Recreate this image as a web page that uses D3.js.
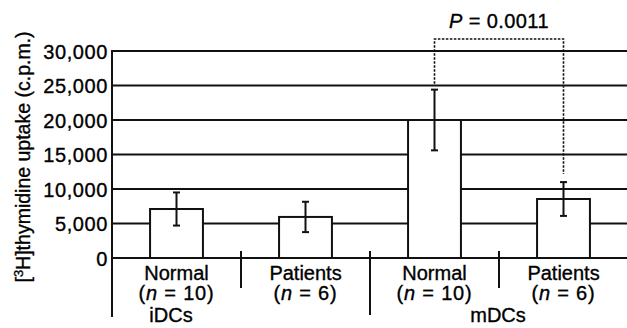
<!DOCTYPE html>
<head>
  <meta charset="utf-8">
  <script src="https://d3js.org/d3.v7.min.js"></script>
  <style>
    body { margin:0; background:#fff; }
    text { font-family: "Liberation Sans", Arial, sans-serif; fill:#000; stroke:#000; stroke-width:0.35px; }
  </style>
</head>

<body>
  <script>
    var width = 627,
        height = 328;

    // data
    var bars = ['iDC-Normal', 'iDC-Patients', 'mDC-Normal', 'mDC-Patients'];
    var means = [7100, 5950, 20000, 8550];
    var errors = [2400, 2200, 4400, 2450];
    var labels = ['Normal', 'Patients', 'Normal', 'Patients'];
    var nValues = ['10', '6', '10', '6'];
    var yTicks = [0, 5000, 10000, 15000, 20000, 25000, 30000];

    var svg = d3.select("body").append("svg")
      .attr("width", width)
      .attr("height", height);

    var x0 = 112;
    var xScale = d3.scaleBand()
      .domain(bars)
      .range([x0, 628])
      .paddingInner(0.59)
      .paddingOuter(0.295);

    var yScale = d3.scaleLinear()
      .domain([0, 30000])
      .range([258, 51]);

    // gridlines across full width
    svg.append('g')
      .selectAll('line')
      .data(yTicks)
      .enter()
      .append('line')
      .attr('x1', x0)
      .attr('x2', width)
      .attr('y1', function(d) { return yScale(d); })
      .attr('y2', function(d) { return yScale(d); })
      .attr('stroke', '#111')
      .attr('stroke-width', 2);

    // y axis (labels only, line drawn separately)
    var yAxis = d3.axisLeft(yScale)
      .tickValues(yTicks)
      .tickSize(0)
      .tickPadding(4)
      .tickFormat(d3.format(','));
    var gy = svg.append('g')
      .attr('transform', 'translate(' + x0 + ',0)')
      .call(yAxis);
    gy.select('.domain').remove();
    gy.selectAll('text')
      .attr('font-size', 20)
      .attr('letter-spacing', 0.6)
      .attr('font-family', '"Liberation Sans", Arial, sans-serif')
      .attr('fill', '#000')
      .attr('dy', '0.36em');

    svg.append('line')
      .attr('x1', x0).attr('x2', x0)
      .attr('y1', 50).attr('y2', 317)
      .attr('stroke', '#111')
      .attr('stroke-width', 2);

    // bars
    svg.append('g')
      .selectAll('rect')
      .data(bars)
      .enter()
      .append('rect')
      .attr('x', function(d) { return xScale(d); })
      .attr('width', xScale.bandwidth())
      .attr('y', function(d, i) { return yScale(means[i]); })
      .attr('height', function(d, i) { return yScale(0) - yScale(means[i]); })
      .attr('fill', '#fff')
      .attr('stroke', '#111')
      .attr('stroke-width', 2);

    // error bars
    var eb = svg.append('g')
      .selectAll('g')
      .data(bars)
      .enter()
      .append('g')
      .attr('transform', function(d) { return 'translate(' + (xScale(d) + xScale.bandwidth() / 2) + ',0)'; });
    eb.append('line')
      .attr('y1', function(d, i) { return yScale(means[i] + errors[i]); })
      .attr('y2', function(d, i) { return yScale(means[i] - errors[i]); })
      .attr('stroke', '#111').attr('stroke-width', 2);
    eb.append('line')
      .attr('x1', -3.5).attr('x2', 3.5)
      .attr('y1', function(d, i) { return yScale(means[i] + errors[i]); })
      .attr('y2', function(d, i) { return yScale(means[i] + errors[i]); })
      .attr('stroke', '#111').attr('stroke-width', 2);
    eb.append('line')
      .attr('x1', -3.5).attr('x2', 3.5)
      .attr('y1', function(d, i) { return yScale(means[i] - errors[i]); })
      .attr('y2', function(d, i) { return yScale(means[i] - errors[i]); })
      .attr('stroke', '#111').attr('stroke-width', 2);

    // separators below axis
    var step = xScale.step();
    var seps = [
      {x: xScale(bars[1]) - (step - xScale.bandwidth()) / 2, y2: 288},
      {x: xScale(bars[2]) - (step - xScale.bandwidth()) / 2, y2: 315},
      {x: xScale(bars[3]) - (step - xScale.bandwidth()) / 2, y2: 288}
    ];
    svg.append('g')
      .selectAll('line')
      .data(seps)
      .enter()
      .append('line')
      .attr('x1', function(d) { return d.x; })
      .attr('x2', function(d) { return d.x; })
      .attr('y1', 251)
      .attr('y2', function(d) { return d.y2; })
      .attr('stroke', '#111')
      .attr('stroke-width', 2);

    // category labels
    var cl = svg.append('g')
      .selectAll('g')
      .data(bars)
      .enter()
      .append('g')
      .attr('transform', function(d) { return 'translate(' + (xScale(d) + xScale.bandwidth() / 2) + ',0)'; });
    cl.append('text')
      .attr('y', 280)
      .attr('text-anchor', 'middle')
      .attr('font-size', 20)
      .text(function(d, i) { return labels[i]; });
    var nt = cl.append('text')
      .attr('y', 300)
      .attr('text-anchor', 'middle')
      .attr('font-size', 20)
      .attr('letter-spacing', 0.8);
    nt.append('tspan').text('(');
    nt.append('tspan').attr('font-style', 'italic').text('n');
    nt.append('tspan').text(function(d, i) { return ' = ' + nValues[i] + ')'; });

    svg.append('text')
      .attr('x', 171).attr('y', 322)
      .attr('text-anchor', 'middle')
      .attr('font-size', 20)
      .text('iDCs');
    svg.append('text')
      .attr('x', 498).attr('y', 322)
      .attr('text-anchor', 'middle')
      .attr('font-size', 20)
      .text('mDCs');

    // significance bracket
    var xa = xScale(bars[2]) + xScale.bandwidth() / 2,
        xb = xScale(bars[3]) + xScale.bandwidth() / 2,
        yTop = 39;
    svg.append('path')
      .attr('d', 'M' + xa + ',' + (yScale(means[2] + errors[2]) - 6) +
                 'V' + yTop + 'H' + xb + 'V' + (yScale(means[3] + errors[3]) - 8))
      .attr('fill', 'none')
      .attr('stroke', '#111')
      .attr('stroke-width', 1.6)
      .attr('stroke-dasharray', '2.5,1.5');
    var pt = svg.append('text')
      .attr('x', (xa + xb) / 2)
      .attr('y', 28)
      .attr('text-anchor', 'middle')
      .attr('font-size', 20)
      .attr('letter-spacing', 0.4);
    pt.append('tspan').attr('font-style', 'italic').text('P');
    pt.append('tspan').text(' = 0.0011');

    // y label
    var yl = svg.append('text')
      .attr('transform', 'translate(30,157) rotate(-90)')
      .attr('text-anchor', 'middle')
      .attr('font-size', 19.5);
    yl.append('tspan').text('[');
    yl.append('tspan').attr('font-size', 13).attr('dy', -7).text('3');
    yl.append('tspan').attr('dy', 7).text('H]thymidine uptake (c.p.m.)');
  </script>
</body>
